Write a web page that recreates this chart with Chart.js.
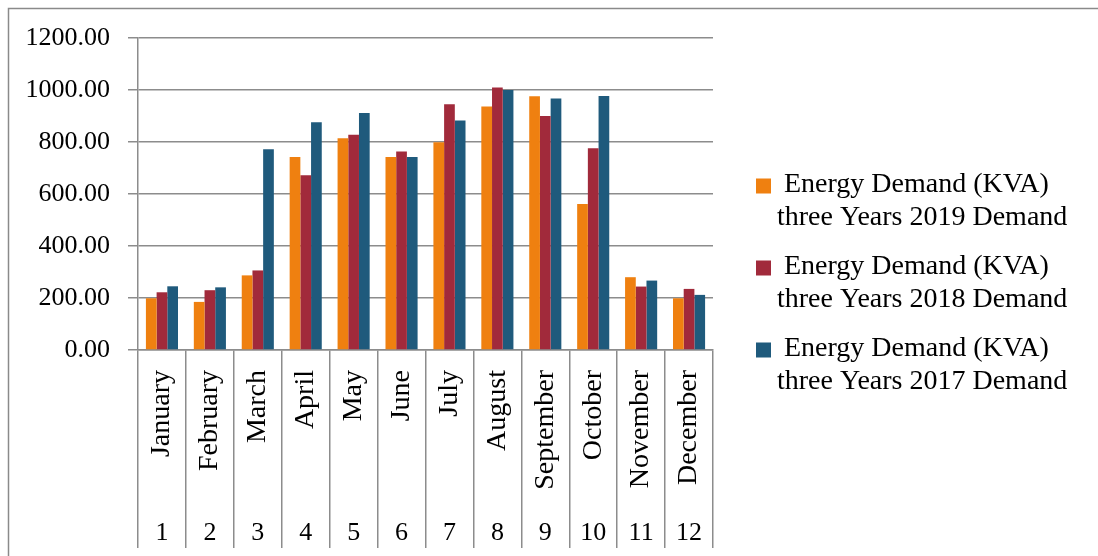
<!DOCTYPE html>
<html>
<head>
<meta charset="utf-8">
<script src="https://cdn.jsdelivr.net/npm/chart.js@4.4.1/dist/chart.umd.min.js"></script>
<style>
  html, body { margin: 0; padding: 0; background: #fff; }
  #c { display: block; }
</style>
</head>
<body>
<canvas id="c" width="1098" height="556"></canvas>
<script>
// ---- data ----
const months = ['January','February','March','April','May','June','July','August','September','October','November','December'];
const monthNumbers = ['1','2','3','4','5','6','7','8','9','10','11','12'];
const demand2019 = [199, 185, 287, 742, 814, 742, 799, 937, 976, 562, 280, 199];
const demand2018 = [222, 230, 306, 672, 828, 763, 945, 1010, 900, 776, 244, 235];
const demand2017 = [245, 241, 772, 876, 912, 742, 883, 1000, 967, 977, 267, 212];
const seriesLabelLines = [
  ['Energy Demand (KVA)', 'three Years 2019 Demand'],
  ['Energy Demand (KVA)', 'three Years 2018 Demand'],
  ['Energy Demand (KVA)', 'three Years 2017 Demand']
];
const yTicks = [0, 200, 400, 600, 800, 1000, 1200];

// ---- styles ----
const COLORS = ['#EF8010', '#A12A3B', '#1F5A7C'];
const GRID = '#8c8c8c';
const FONT = "'Liberation Serif', 'Times New Roman', serif";
const TICK_SIZE = 26;
const LABEL_SIZE = 28;

const frame = {
  id: 'frame',
  beforeDraw(chart) {
    const ctx = chart.ctx;
    ctx.save();
    ctx.fillStyle = '#fff';
    ctx.fillRect(0, 0, chart.width, chart.height);
    ctx.strokeStyle = '#8a8a8a';
    ctx.lineWidth = 1.5;
    ctx.beginPath();
    ctx.moveTo(8.5, chart.height);
    ctx.lineTo(8.5, 8.5);
    ctx.lineTo(chart.width, 8.5);
    ctx.stroke();
    ctx.restore();
  }
};

const sideLegend = {
  id: 'sideLegend',
  afterDraw(chart) {
    const ctx = chart.ctx;
    const area = chart.chartArea;
    const boxX = area.right + 43;
    const textX = boxX + 21;
    const lineH = 33;
    const pitch = 82;
    const n = chart.data.datasets.length;
    const firstY = chart.height / 2 + 5 - ((n - 1) * pitch + lineH) / 2;
    ctx.save();
    ctx.font = LABEL_SIZE + 'px ' + FONT;
    ctx.textBaseline = 'middle';
    ctx.textAlign = 'left';
    chart.data.datasets.forEach((ds, i) => {
      const y = firstY + i * pitch;
      ctx.fillStyle = ds.backgroundColor;
      ctx.fillRect(boxX, y - 6, 15, 15);
      ctx.fillStyle = '#000';
      const lines = ds.legendLines;
      ctx.fillText(' ' + lines[0], textX, y);
      ctx.fillText(lines[1], textX, y + lineH);
    });
    ctx.restore();
  }
};

const datasets = [demand2019, demand2018, demand2017].map((vals, i) => ({
  label: seriesLabelLines[i].join(' '),
  legendLines: seriesLabelLines[i],
  data: vals,
  backgroundColor: COLORS[i],
  borderWidth: 0,
  categoryPercentage: 0.67,
  barPercentage: 1.0
}));

new Chart(document.getElementById('c'), {
  type: 'bar',
  data: { labels: months, datasets },
  options: {
    responsive: false,
    animation: false,
    devicePixelRatio: 1,
    layout: { padding: { left: 10, top: 38, right: 385, bottom: 8 } },
    plugins: {
      legend: { display: false },
      tooltip: { enabled: false }
    },
    scales: {
      y: {
        min: 0, max: 1200,
        afterFit(scale) { scale.width = 128; },
        afterBuildTicks(scale) { scale.ticks = yTicks.map(v => ({ value: v })); },
        ticks: {
          padding: 18,
          color: '#000',
          font: { family: FONT, size: TICK_SIZE },
          callback: v => Number(v).toFixed(2)
        },
        grid: { color: GRID, lineWidth: 1.5, tickLength: 10 },
        border: { color: GRID, width: 1.5 }
      },
      x: {
        position: 'bottom',
        afterFit(scale) { scale.height = 145; },
        ticks: {
          minRotation: 90, maxRotation: 90, autoSkip: false,
          padding: -178,
          color: '#000',
          font: { family: FONT, size: LABEL_SIZE }
        },
        grid: { display: true, offset: true, drawOnChartArea: false, drawTicks: true, tickLength: 198, color: GRID, lineWidth: 1.5 },
        border: { display: true, color: GRID, width: 1.5 }
      },
      x2: {
        type: 'category',
        position: 'bottom',
        labels: monthNumbers,
        afterFit(scale) { scale.height = 53; },
        ticks: {
          minRotation: 0, maxRotation: 0, autoSkip: false,
          padding: 15,
          color: '#000',
          font: { family: FONT, size: TICK_SIZE }
        },
        grid: { display: false },
        border: { display: false }
      }
    }
  },
  plugins: [frame, sideLegend]
});
</script>
</body>
</html>
